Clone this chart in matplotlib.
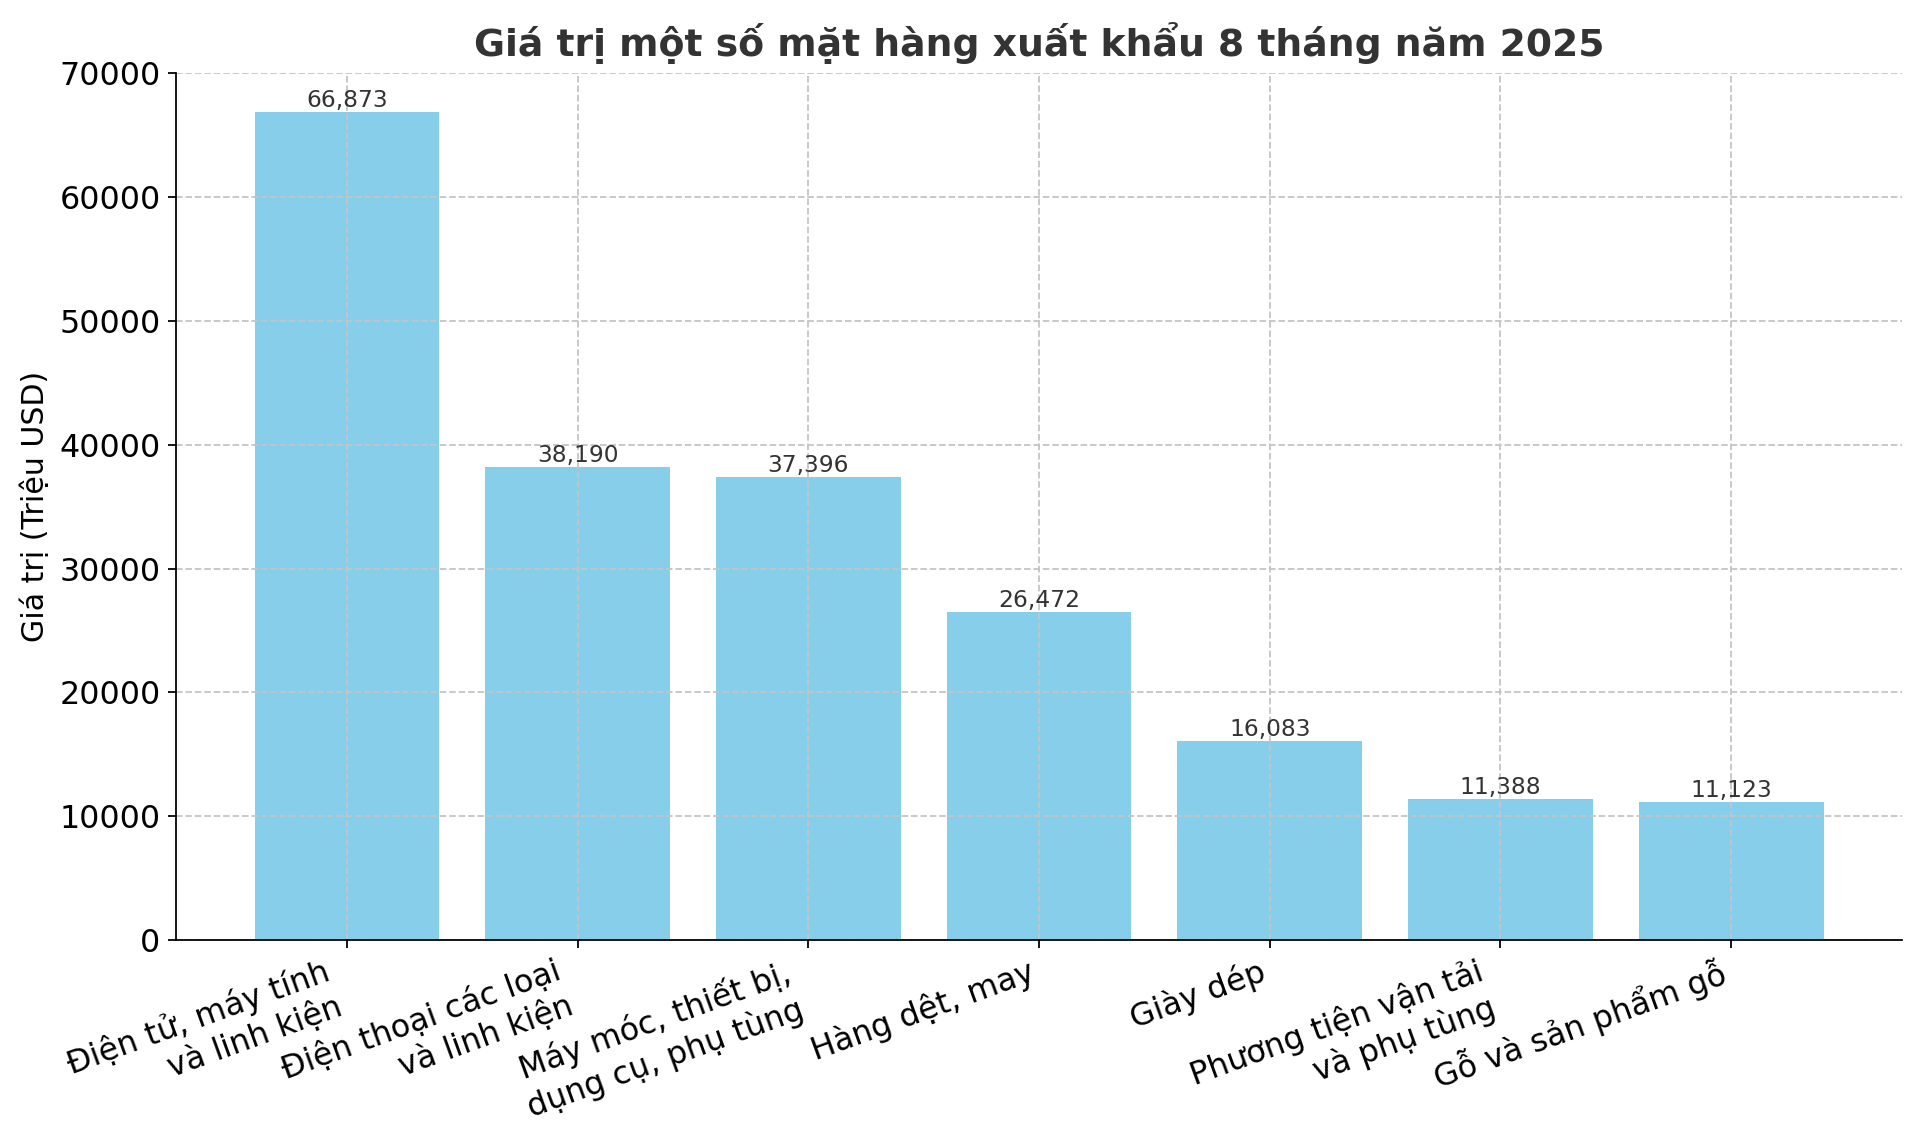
import matplotlib
matplotlib.use("Agg")
import matplotlib.pyplot as plt

categories = [
    "Điện tử, máy tính\nvà linh kiện",
    "Điện thoại các loại\nvà linh kiện",
    "Máy móc, thiết bị,\ndụng cụ, phụ tùng",
    "Hàng dệt, may",
    "Giày dép",
    "Phương tiện vận tải\nvà phụ tùng",
    "Gỗ và sản phẩm gỗ",
]
values = [66873, 38190, 37396, 26472, 16083, 11388, 11123]

fig = plt.figure(figsize=(12, 1145 / 160), dpi=160)
ax = fig.add_axes([0.0917, 0.179, 0.8989, 0.757])

x = range(len(categories))
bars = ax.bar(x, values, color="skyblue", width=0.8, zorder=2)
for b, v in zip(bars, values):
    ax.text(b.get_x() + b.get_width() / 2, v, f"{v:,}", ha="center", va="bottom",
            fontsize=10.5, color="#333333", zorder=3)

ax.set_xticks(list(x))
ax.set_xticklabels(categories, rotation=20, ha="right", fontsize=14.3)
ax.tick_params(axis="y", labelsize=14.3)
ax.set_ylim(0, 70000)
ax.set_ylabel("Giá trị (Triệu USD)", fontsize=13.5)
ax.set_title("Giá trị một số mặt hàng xuất khẩu 8 tháng năm 2025",
             fontsize=17, fontweight="bold", color="#333333", pad=8)
ax.grid(True, linestyle="--", color="#c4c4c4", linewidth=0.8, zorder=3)
ax.set_axisbelow(False)
for s in ("top", "right"):
    ax.spines[s].set_visible(False)
for s in ("left", "bottom"):
    ax.spines[s].set_zorder(5)

fig.savefig("out.png", dpi=160)
